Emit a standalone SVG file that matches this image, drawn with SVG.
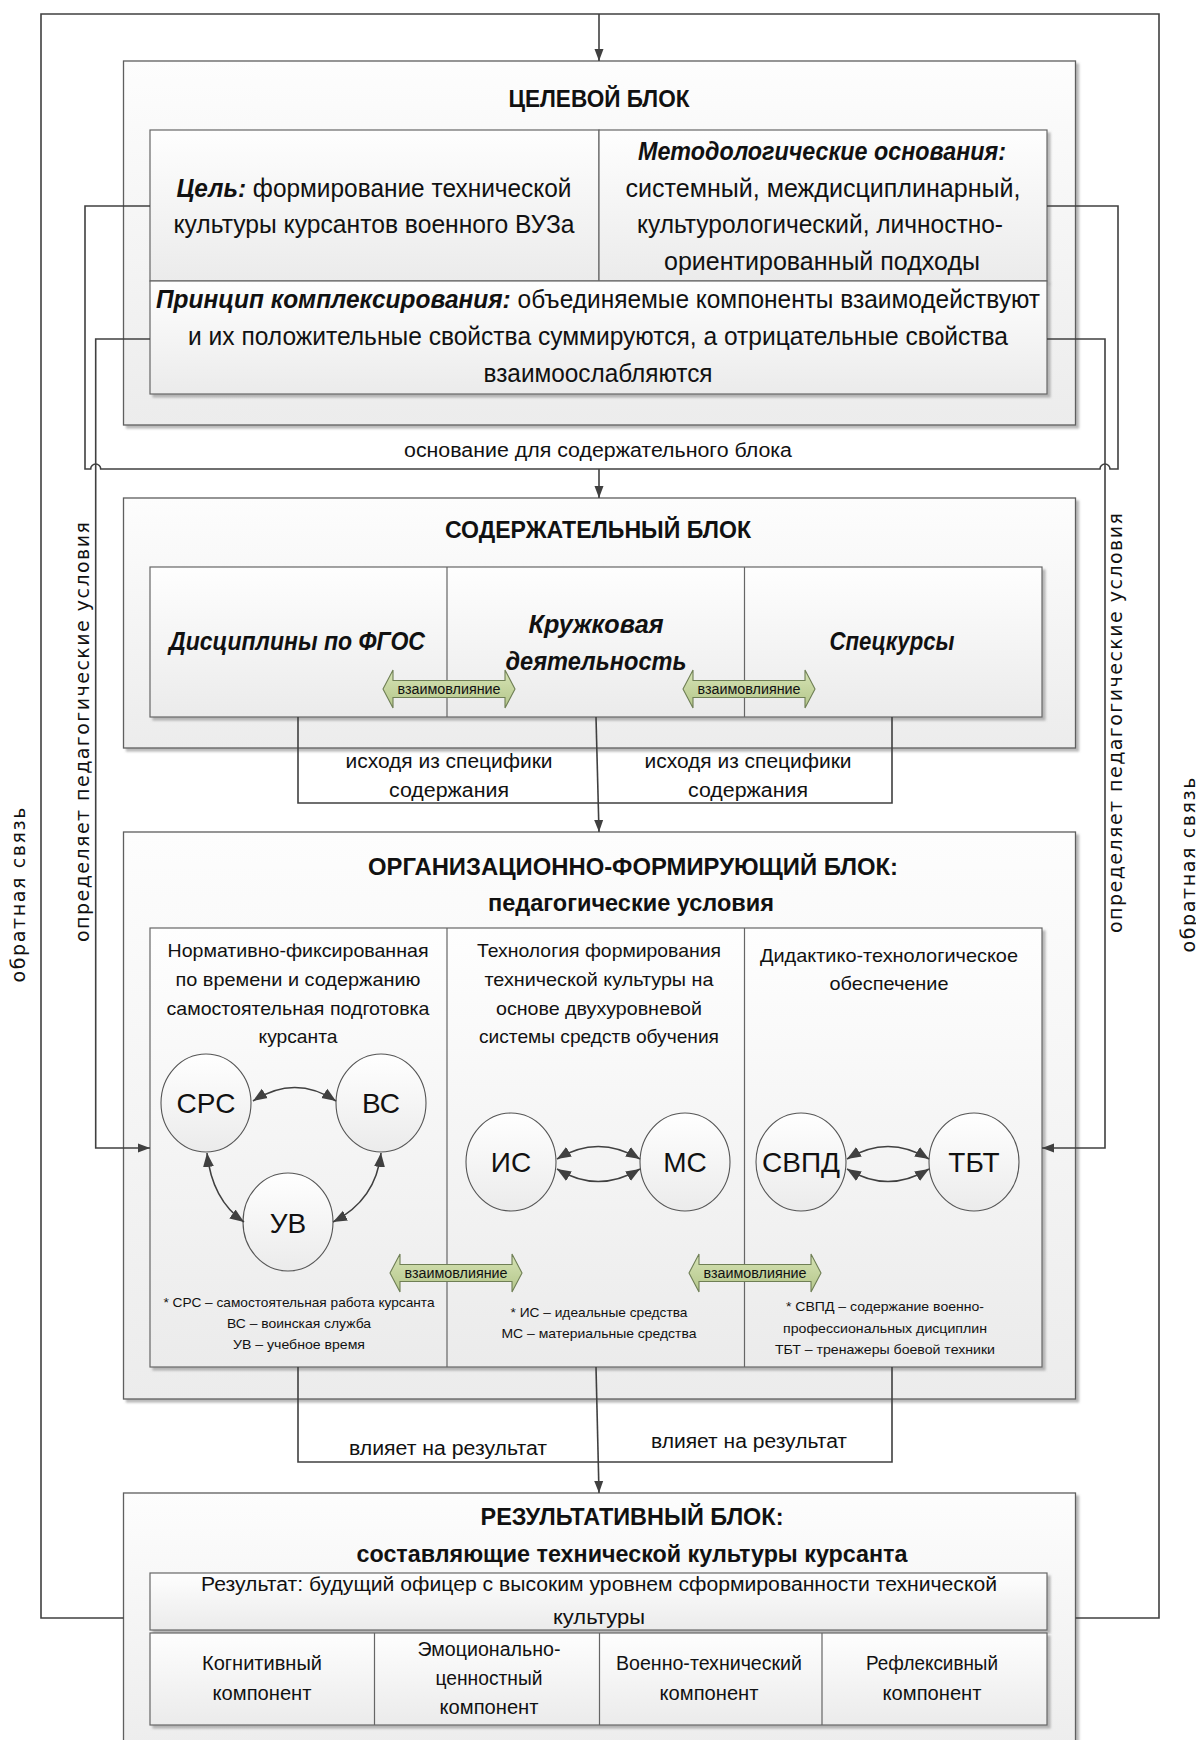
<svg xmlns="http://www.w3.org/2000/svg" width="1196" height="1740" viewBox="0 0 1196 1740">
<defs>
<style>
text{font-family:'Liberation Sans Narrow','Liberation Sans',Arial,sans-serif;fill:#111;text-anchor:middle}
.blk{fill:url(#gb);stroke:#5e5e5e;stroke-width:1.3;filter:url(#sh)}
.box{fill:url(#gi);stroke:#666;stroke-width:1.2;filter:url(#sh)}
.div{stroke:#666;stroke-width:1.2;fill:none}
.ln{fill:none;stroke:#404040;stroke-width:1.6}
.ar{marker-end:url(#ah)}
.ca{fill:none;stroke:#404040;stroke-width:1.6;marker-start:url(#ch);marker-end:url(#ch)}
.cir{fill:url(#gc);stroke:#555;stroke-width:1.1}
.grn{fill:url(#gg);stroke:#6f7f55;stroke-width:1.1}
.tb{font-size:24px;font-weight:bold}
.t{font-size:25px}
.bi{font-weight:bold;font-style:italic}
.s{font-size:19px}
.m{font-size:20px}
.f{font-size:13.5px}
.c{font-size:28px}
.g{font-size:14px}
.v{font-family:'DejaVu Sans',Verdana,sans-serif;font-size:19px}
</style>
<linearGradient id="gb" x1="0" y1="0" x2="0" y2="1"><stop offset="0" stop-color="#fdfdfd"/><stop offset="1" stop-color="#ececec"/></linearGradient>
<linearGradient id="gi" x1="0" y1="0" x2="0" y2="1"><stop offset="0" stop-color="#fefefe"/><stop offset="1" stop-color="#ebebeb"/></linearGradient>
<linearGradient id="gc" x1="0" y1="0" x2="0" y2="1"><stop offset="0" stop-color="#ffffff"/><stop offset="1" stop-color="#ebebeb"/></linearGradient>
<linearGradient id="gg" x1="0" y1="0" x2="0" y2="1"><stop offset="0" stop-color="#d6e3b5"/><stop offset="1" stop-color="#b4c68a"/></linearGradient>
<filter id="sh" x="-3%" y="-3%" width="108%" height="110%"><feDropShadow dx="3" dy="3" stdDeviation="1.2" flood-color="#8c8c8c" flood-opacity="0.6"/></filter>
<marker id="ah" markerUnits="userSpaceOnUse" markerWidth="13" markerHeight="10" refX="12" refY="5" orient="auto"><path d="M0,0.5 L12,5 L0,9.5 z" fill="#404040"/></marker>
<marker id="ch" markerUnits="userSpaceOnUse" markerWidth="15" markerHeight="12" refX="14" refY="6" orient="auto-start-reverse"><path d="M0,0.5 L14,6 L0,11.5 z" fill="#404040"/></marker>
</defs>
<rect width="1196" height="1740" fill="#ffffff"/>

<g id="target">
<rect class="blk" x="123.5" y="61" width="952" height="364"/>
<text class="tb" x="599" y="107" textLength="181" lengthAdjust="spacingAndGlyphs">ЦЕЛЕВОЙ БЛОК</text>
<g id="goal">
<rect class="box" x="150" y="130" width="449" height="151"/>
<text class="t" x="374" y="197" textLength="395" lengthAdjust="spacingAndGlyphs"><tspan class="bi">Цель:</tspan> формирование технической</text>
<text class="t" x="374" y="233" textLength="401" lengthAdjust="spacingAndGlyphs">культуры курсантов военного ВУЗа</text>
</g>
<g id="method">
<rect class="box" x="599" y="130" width="448" height="151"/>
<text class="t bi" x="822" y="160" textLength="368" lengthAdjust="spacingAndGlyphs">Методологические основания:</text>
<text class="t" x="823" y="197" textLength="395" lengthAdjust="spacingAndGlyphs">системный, междисциплинарный,</text>
<text class="t" x="820" y="233" textLength="366" lengthAdjust="spacingAndGlyphs">культурологический, личностно-</text>
<text class="t" x="822" y="270" textLength="316" lengthAdjust="spacingAndGlyphs">ориентированный подходы</text>
</g>
<g id="principle">
<rect class="box" x="150" y="281" width="897" height="113"/>
<text class="t" x="598" y="308" textLength="884" lengthAdjust="spacingAndGlyphs"><tspan class="bi">Принцип комплексирования:</tspan> объединяемые компоненты взаимодействуют</text>
<text class="t" x="598" y="345" textLength="820" lengthAdjust="spacingAndGlyphs">и их положительные свойства суммируются, а отрицательные свойства</text>
<text class="t" x="598" y="382" textLength="229" lengthAdjust="spacingAndGlyphs">взаимоослабляются</text>
</g>
</g>

<g id="content">
<rect class="blk" x="123.5" y="498" width="952" height="250"/>
<text class="tb" x="598" y="538" textLength="306" lengthAdjust="spacingAndGlyphs">СОДЕРЖАТЕЛЬНЫЙ  БЛОК</text>
<rect class="box" x="150" y="567" width="892" height="150"/>
<path class="div" d="M447,567 V717 M744.5,567 V717"/>
<g id="disc"><text class="t bi" x="297" y="650" textLength="256" lengthAdjust="spacingAndGlyphs">Дисциплины по ФГОС</text></g>
<g id="club"><text class="t bi" x="596" y="633" textLength="135" lengthAdjust="spacingAndGlyphs">Кружковая</text>
<text class="t bi" x="596" y="670" textLength="181" lengthAdjust="spacingAndGlyphs">деятельность</text></g>
<g id="spec"><text class="t bi" x="892" y="650" textLength="125" lengthAdjust="spacingAndGlyphs">Спецкурсы</text></g>
<g id="mutual1"><path class="grn" d="M383,689 L393,670 L393,680.5 L505,680.5 L505,670 L515,689 L505,708 L505,697.5 L393,697.5 L393,708 Z"/>
<text class="g" x="449" y="694" textLength="103" lengthAdjust="spacingAndGlyphs">взаимовлияние</text></g>
<g id="mutual2"><path class="grn" d="M683,689 L693,670 L693,680.5 L805,680.5 L805,670 L815,689 L805,708 L805,697.5 L693,697.5 L693,708 Z"/>
<text class="g" x="749" y="694" textLength="103" lengthAdjust="spacingAndGlyphs">взаимовлияние</text></g>
</g>

<g id="org">
<rect class="blk" x="123.5" y="832" width="952" height="567"/>
<text class="tb" x="633" y="875" textLength="530" lengthAdjust="spacingAndGlyphs">ОРГАНИЗАЦИОННО-ФОРМИРУЮЩИЙ  БЛОК:</text>
<text class="tb" x="631" y="911" textLength="286" lengthAdjust="spacingAndGlyphs">педагогические условия</text>
<rect class="box" x="150" y="928" width="892" height="439"/>
<path class="div" d="M447,928 V1367 M744.5,928 V1367"/>
<g id="col1">
<text class="s" x="298" y="957" textLength="261" lengthAdjust="spacingAndGlyphs">Нормативно-фиксированная</text>
<text class="s" x="298" y="986" textLength="245" lengthAdjust="spacingAndGlyphs">по времени и содержанию</text>
<text class="s" x="298" y="1015" textLength="263" lengthAdjust="spacingAndGlyphs">самостоятельная подготовка</text>
<text class="s" x="298" y="1043" textLength="79" lengthAdjust="spacingAndGlyphs">курсанта</text>
<text class="f" x="299" y="1307" textLength="271" lengthAdjust="spacingAndGlyphs">* СРС – самостоятельная работа курсанта</text>
<text class="f" x="299" y="1328" textLength="144" lengthAdjust="spacingAndGlyphs">ВС – воинская служба</text>
<text class="f" x="299" y="1349" textLength="132" lengthAdjust="spacingAndGlyphs">УВ – учебное время</text>
</g>
<g id="col2">
<text class="s" x="599" y="957" textLength="244" lengthAdjust="spacingAndGlyphs">Технология формирования</text>
<text class="s" x="599" y="986" textLength="229" lengthAdjust="spacingAndGlyphs">технической культуры на</text>
<text class="s" x="599" y="1015" textLength="206" lengthAdjust="spacingAndGlyphs">основе двухуровневой</text>
<text class="s" x="599" y="1043" textLength="240" lengthAdjust="spacingAndGlyphs">системы средств обучения</text>
<text class="f" x="599" y="1317" textLength="177" lengthAdjust="spacingAndGlyphs">* ИС – идеальные средства</text>
<text class="f" x="599" y="1338" textLength="195" lengthAdjust="spacingAndGlyphs">МС – материальные средства</text>
</g>
<g id="col3">
<text class="s" x="889" y="962" textLength="258" lengthAdjust="spacingAndGlyphs">Дидактико-технологическое</text>
<text class="s" x="889" y="990" textLength="119" lengthAdjust="spacingAndGlyphs">обеспечение</text>
<text class="f" x="885" y="1311" textLength="198" lengthAdjust="spacingAndGlyphs">* СВПД – содержание военно-</text>
<text class="f" x="885" y="1333" textLength="204" lengthAdjust="spacingAndGlyphs">профессиональных дисциплин</text>
<text class="f" x="885" y="1354" textLength="220" lengthAdjust="spacingAndGlyphs">ТБТ – тренажеры боевой техники</text>
</g>
<g id="srs"><ellipse class="cir" cx="206" cy="1103" rx="45" ry="49"/><text class="c" x="206" y="1113">СРС</text></g>
<g id="vs"><ellipse class="cir" cx="381" cy="1103" rx="45" ry="49"/><text class="c" x="381" y="1113">ВС</text></g>
<g id="uv"><ellipse class="cir" cx="288" cy="1222" rx="45" ry="49"/><text class="c" x="288" y="1233">УВ</text></g>
<g id="is"><ellipse class="cir" cx="511" cy="1162" rx="45" ry="49"/><text class="c" x="511" y="1172">ИС</text></g>
<g id="ms"><ellipse class="cir" cx="685" cy="1162" rx="45" ry="49"/><text class="c" x="685" y="1172">МС</text></g>
<g id="svpd"><ellipse class="cir" cx="801" cy="1162" rx="45" ry="49"/><text class="c" x="801" y="1172">СВПД</text></g>
<g id="tbt"><ellipse class="cir" cx="974" cy="1162" rx="45" ry="49"/><text class="c" x="974" y="1172">ТБТ</text></g>
<g id="mutual3"><path class="grn" d="M390,1273 L400,1254 L400,1264.5 L512,1264.5 L512,1254 L522,1273 L512,1292 L512,1281.5 L400,1281.5 L400,1292 Z"/>
<text class="g" x="456" y="1278" textLength="103" lengthAdjust="spacingAndGlyphs">взаимовлияние</text></g>
<g id="mutual4"><path class="grn" d="M689,1273 L699,1254 L699,1264.5 L811,1264.5 L811,1254 L821,1273 L811,1292 L811,1281.5 L699,1281.5 L699,1292 Z"/>
<text class="g" x="755" y="1278" textLength="103" lengthAdjust="spacingAndGlyphs">взаимовлияние</text></g>
</g>

<g id="result">
<rect class="blk" x="123.5" y="1493" width="952" height="270"/>
<text class="tb" x="632" y="1525" textLength="303" lengthAdjust="spacingAndGlyphs">РЕЗУЛЬТАТИВНЫЙ  БЛОК:</text>
<text class="tb" x="632" y="1562" textLength="551" lengthAdjust="spacingAndGlyphs">составляющие технической культуры курсанта</text>
<g id="res-text">
<rect class="box" x="150" y="1573" width="897" height="57"/>
<text class="m" x="599" y="1591" textLength="796" lengthAdjust="spacingAndGlyphs">Результат: будущий офицер с высоким уровнем сформированности технической</text>
<text class="m" x="599" y="1624" textLength="92" lengthAdjust="spacingAndGlyphs">культуры</text>
</g>
<g id="components">
<rect class="box" x="150" y="1633" width="897" height="92"/>
<path class="div" d="M374.5,1633 V1725 M599.5,1633 V1725 M822,1633 V1725"/>
<text class="m" x="262" y="1670" textLength="120" lengthAdjust="spacingAndGlyphs">Когнитивный</text>
<text class="m" x="262" y="1700" textLength="99" lengthAdjust="spacingAndGlyphs">компонент</text>
<text class="m" x="489" y="1656" textLength="143" lengthAdjust="spacingAndGlyphs">Эмоционально-</text>
<text class="m" x="489" y="1685" textLength="107" lengthAdjust="spacingAndGlyphs">ценностный</text>
<text class="m" x="489" y="1714" textLength="99" lengthAdjust="spacingAndGlyphs">компонент</text>
<text class="m" x="709" y="1670" textLength="186" lengthAdjust="spacingAndGlyphs">Военно-технический</text>
<text class="m" x="709" y="1700" textLength="99" lengthAdjust="spacingAndGlyphs">компонент</text>
<text class="m" x="932" y="1670" textLength="132" lengthAdjust="spacingAndGlyphs">Рефлексивный</text>
<text class="m" x="932" y="1700" textLength="99" lengthAdjust="spacingAndGlyphs">компонент</text>
</g>
</g>

<g id="connectors">
<path class="ln" d="M123.5,1618 H41 V14 H1159 V1618 H1075.5"/>
<path class="ln ar" d="M599,14 V61"/>
<path class="ln" d="M150,206 H85 V469 H90.7 A5,5 0 0 1 100.7,469 H1100 A5,5 0 0 1 1110,469 H1118 V206 H1047"/>
<path class="ln ar" d="M599,469 V498"/>
<path class="ln ar" d="M150,339 H95.7 V1148 H150"/>
<path class="ln ar" d="M1047,339 H1105 V1148 H1042"/>
<path class="ln" d="M298,717 V803 H892 V717"/>
<path class="ln ar" d="M596,717 L599,832"/>
<path class="ln" d="M298,1367 V1462 H892 V1367"/>
<path class="ln ar" d="M596,1367 L599,1493"/>
<path class="ca" d="M253,1101 Q295,1074 336,1101"/>
<path class="ca" d="M207,1153 Q212,1200 244,1222"/>
<path class="ca" d="M381,1153 Q376,1200 333,1222"/>
<path class="ca" d="M557,1159 Q598,1134 640,1159"/>
<path class="ca" d="M557,1169 Q598,1194 640,1169"/>
<path class="ca" d="M847,1159 Q888,1134 929,1159"/>
<path class="ca" d="M847,1169 Q888,1194 929,1169"/>
<text class="m" x="598" y="457" textLength="388" lengthAdjust="spacingAndGlyphs">основание для содержательного блока</text>
<text class="m" x="449" y="768" textLength="207" lengthAdjust="spacingAndGlyphs">исходя из специфики</text>
<text class="m" x="449" y="797" textLength="120" lengthAdjust="spacingAndGlyphs">содержания</text>
<text class="m" x="748" y="768" textLength="207" lengthAdjust="spacingAndGlyphs">исходя из специфики</text>
<text class="m" x="748" y="797" textLength="120" lengthAdjust="spacingAndGlyphs">содержания</text>
<text class="m" x="448" y="1455" textLength="198" lengthAdjust="spacingAndGlyphs">влияет на результат</text>
<text class="m" x="749" y="1448" textLength="196" lengthAdjust="spacingAndGlyphs">влияет на результат</text>
<text class="v" transform="translate(82,732) rotate(-90)" x="0" y="7" textLength="420" lengthAdjust="spacing">определяет педагогические условия</text>
<text class="v" transform="translate(18,895) rotate(-90)" x="0" y="7" textLength="175" lengthAdjust="spacing">обратная связь</text>
<text class="v" transform="translate(1115,723) rotate(-90)" x="0" y="7" textLength="420" lengthAdjust="spacing">определяет педагогические условия</text>
<text class="v" transform="translate(1188,865) rotate(-90)" x="0" y="7" textLength="175" lengthAdjust="spacing">обратная связь</text>
</g>
</svg>
